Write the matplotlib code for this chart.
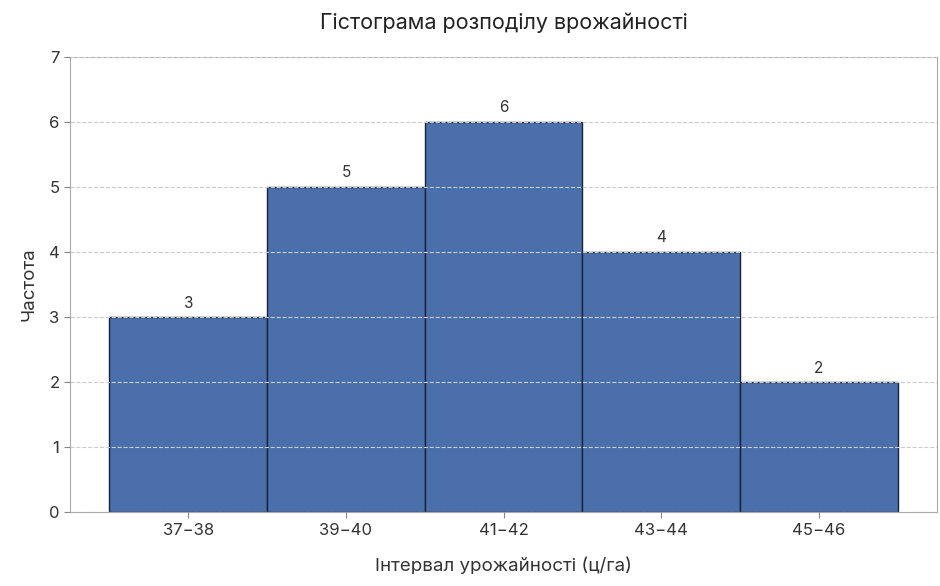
import matplotlib
matplotlib.use("Agg")
import matplotlib.pyplot as plt

plt.rcParams["font.family"] = ["Inter", "DejaVu Sans"]

intervals = ["37−38", "39−40", "41−42", "43−44", "45−46"]
counts = [3, 5, 6, 4, 2]

fig, ax = plt.subplots(figsize=(9.4, 5.86), dpi=100)
fig.subplots_adjust(left=0.0745, right=0.997, top=0.903, bottom=0.126)

x = range(len(intervals))
bars = ax.bar(x, counts, width=1.0, color="#4a6fab", edgecolor="#16233d",
              linewidth=1.0, zorder=2)
for b, c in zip(bars, counts):
    ax.text(b.get_x() + b.get_width() / 2, c + 0.1, str(c), ha="center",
            va="bottom", fontsize=11, color="#333333")

ax.set_xticks(list(x))
ax.set_xticklabels(intervals)
ax.set_ylim(0, 7)
ax.set_yticks(range(8))
ax.grid(axis="y", linestyle="--", color="#cccccc", linewidth=0.8, zorder=3)
ax.set_axisbelow(False)
for s in ax.spines.values():
    s.set_color("#aaaaaa")
ax.tick_params(colors="#333333", labelsize=12, length=4)
ax.tick_params(color="#888888")

ax.set_title("Гістограма розподілу врожайності", fontsize=15.5, pad=20, color="#222222")
ax.set_xlabel("Інтервал урожайності (ц/га)", fontsize=13.5, labelpad=14, color="#333333")
ax.set_ylabel("Частота", fontsize=13.5, labelpad=8, color="#333333")

fig.savefig("out.png", dpi=100)
